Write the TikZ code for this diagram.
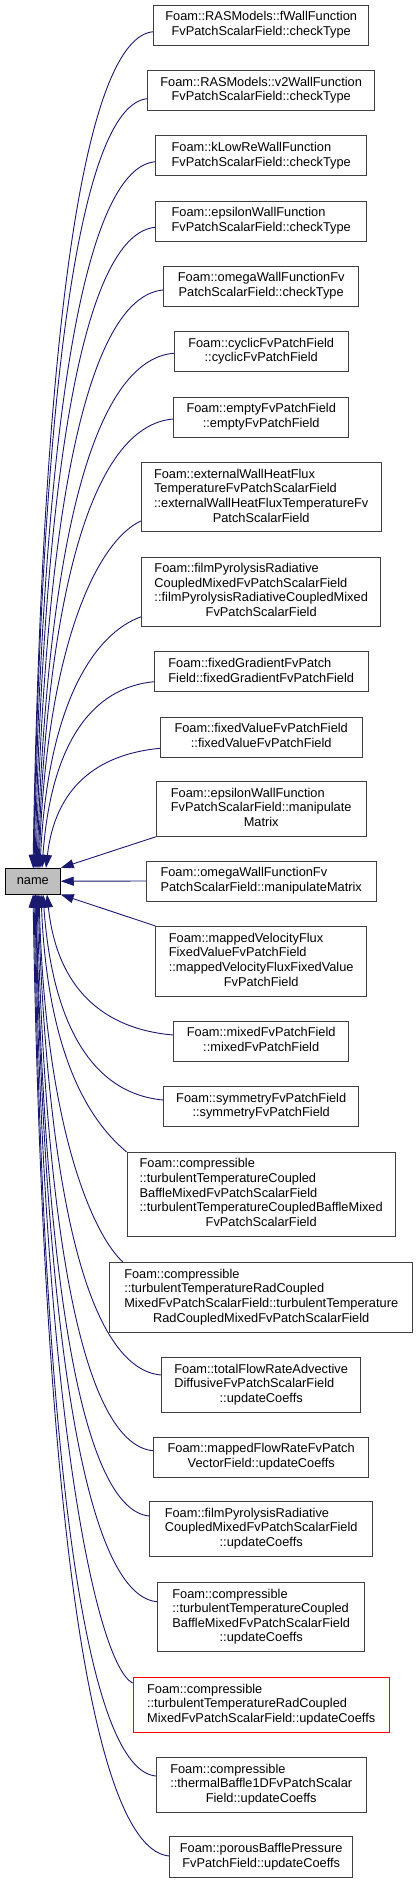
\documentclass[tikz,border=0pt]{standalone}
\usepackage{fontspec}
\setmainfont{Liberation Sans}
\usetikzlibrary{arrows.meta,calc}
\definecolor{edgeblue}{RGB}{25,25,112}
\definecolor{bordergray}{RGB}{64,64,64}
\definecolor{namegray}{RGB}{191,191,191}
\newcommand{\dlab}[2]{\begin{tabular}{@{}l@{}}#1\\\multicolumn{1}{@{}c@{}}{#2}\end{tabular}}
\begin{document}
\begin{tikzpicture}[x=1pt,y=-1pt,
  font=\fontsize{12.8}{14.6}\selectfont,
  dbox/.style={draw=bordergray,line width=0.9pt,fill=white,inner xsep=1pt,inner ysep=0pt},
  redbox/.style={dbox,draw=red},
  namebox/.style={draw=black,line width=0.9pt,fill=namegray,inner sep=0pt,minimum width=55pt,minimum height=25.7pt},
  dedge/.style={draw=edgeblue,line width=0.9pt,-{Triangle[length=13pt,width=9pt]}}]
\useasboundingbox (0,0) rectangle (419,1883);

\node[namebox] (name) at (32.8,881.2) {name};

\node[dbox,minimum width=215pt,minimum height=40pt] (b1) at (261.2,25) {\dlab{Foam::RASModels::fWallFunction}{FvPatchScalarField::checkType}};
\node[dbox,minimum width=227pt,minimum height=40pt] (b2) at (261.2,90.5) {\dlab{Foam::RASModels::v2WallFunction}{FvPatchScalarField::checkType}};
\node[dbox,minimum width=211pt,minimum height=40pt] (b3) at (261.2,155.8) {\dlab{Foam::kLowReWallFunction}{FvPatchScalarField::checkType}};
\node[dbox,minimum width=211pt,minimum height=40pt] (b4) at (261.2,221) {\dlab{Foam::epsilonWallFunction}{FvPatchScalarField::checkType}};
\node[dbox,minimum width=195pt,minimum height=40pt] (b5) at (261.2,286.3) {\dlab{Foam::omegaWallFunctionFv}{PatchScalarField::checkType}};
\node[dbox,minimum width=174pt,minimum height=40pt] (b6) at (261.2,351.7) {\dlab{Foam::cyclicFvPatchField}{::cyclicFvPatchField}};
\node[dbox,minimum width=175pt,minimum height=40pt] (b7) at (261.2,417) {\dlab{Foam::emptyFvPatchField}{::emptyFvPatchField}};
\node[dbox,minimum width=239.7pt,minimum height=69pt] (b8) at (261.2,497.2) {\dlab{Foam::externalWallHeatFlux\\TemperatureFvPatchScalarField\\::externalWallHeatFluxTemperatureFv}{PatchScalarField}};
\node[dbox,minimum width=239pt,minimum height=69.3pt] (b9) at (261.2,591.7) {\dlab{Foam::filmPyrolysisRadiative\\CoupledMixedFvPatchScalarField\\::filmPyrolysisRadiativeCoupledMixed}{FvPatchScalarField}};
\node[dbox,minimum width=213.7pt,minimum height=40pt] (b10) at (261.2,671.8) {\dlab{Foam::fixedGradientFvPatch}{Field::fixedGradientFvPatchField}};
\node[dbox,minimum width=201.7pt,minimum height=40pt] (b11) at (261.2,737) {\dlab{Foam::fixedValueFvPatchField}{::fixedValueFvPatchField}};
\node[dbox,minimum width=209.7pt,minimum height=54.6pt] (b12) at (261.2,809) {\dlab{Foam::epsilonWallFunction\\FvPatchScalarField::manipulate}{Matrix}};
\node[dbox,minimum width=229.7pt,minimum height=40pt] (b13) at (261.2,881) {\dlab{Foam::omegaWallFunctionFv}{PatchScalarField::manipulateMatrix}};
\node[dbox,minimum width=211pt,minimum height=69.7pt] (b14) at (261.2,961.2) {\dlab{Foam::mappedVelocityFlux\\FixedValueFvPatchField\\::mappedVelocityFluxFixedValue}{FvPatchField}};
\node[dbox,minimum width=175pt,minimum height=40pt] (b15) at (261.2,1041) {\dlab{Foam::mixedFvPatchField}{::mixedFvPatchField}};
\node[dbox,minimum width=195pt,minimum height=40pt] (b16) at (261.2,1106.7) {\dlab{Foam::symmetryFvPatchField}{::symmetryFvPatchField}};
\node[dbox,minimum width=268.3pt,minimum height=83.7pt] (b17) at (261.2,1194.2) {\dlab{Foam::compressible\\::turbulentTemperatureCoupled\\BaffleMixedFvPatchScalarField\\::turbulentTemperatureCoupledBaffleMixed}{FvPatchScalarField}};
\node[dbox,minimum width=303pt,minimum height=69.7pt] (b18) at (261.2,1297.2) {\dlab{Foam::compressible\\::turbulentTemperatureRadCoupled\\MixedFvPatchScalarField::turbulentTemperature}{RadCoupledMixedFvPatchScalarField}};
\node[dbox,minimum width=199.4pt,minimum height=55pt] (b19) at (261.2,1384.8) {\dlab{Foam::totalFlowRateAdvective\\DiffusiveFvPatchScalarField}{::updateCoeffs}};
\node[dbox,minimum width=215.4pt,minimum height=40pt] (b20) at (261.2,1457) {\dlab{Foam::mappedFlowRateFvPatch}{VectorField::updateCoeffs}};
\node[dbox,minimum width=223pt,minimum height=54.3pt] (b21) at (261.2,1528.8) {\dlab{Foam::filmPyrolysisRadiative\\CoupledMixedFvPatchScalarField}{::updateCoeffs}};
\node[dbox,minimum width=207.4pt,minimum height=69.4pt] (b22) at (261.2,1617) {\dlab{Foam::compressible\\::turbulentTemperatureCoupled\\BaffleMixedFvPatchScalarField}{::updateCoeffs}};
\node[redbox,minimum width=256.3pt,minimum height=54.6pt] (b23) at (261.2,1705) {\dlab{Foam::compressible\\::turbulentTemperatureRadCoupled}{MixedFvPatchScalarField::updateCoeffs}};
\node[dbox,minimum width=209.7pt,minimum height=54.6pt] (b24) at (261.2,1785) {\dlab{Foam::compressible\\::thermalBaffle1DFvPatchScalar}{Field::updateCoeffs}};
\node[dbox,minimum width=182.6pt,minimum height=40.3pt] (b25) at (261.2,1856.8) {\dlab{Foam::porousBafflePressure}{FvPatchField::updateCoeffs}};

% upper edges
\draw[dedge] ($(b1.west)+(0,6.7)$) .. controls +(-66.4,6) and +(9.7,-560.5) .. ($(name.north)+(0.2,0)$);
\draw[dedge] ($(b2.west)+(0,8.2)$) .. controls +(-62.8,6) and +(9.1,-515.6) .. ($(name.north)+(0.7,0)$);
\draw[dedge] ($(b3.west)+(0,5.9)$) .. controls +(-66.9,6) and +(9.7,-473.4) .. ($(name.north)+(1.2,0)$);
\draw[dedge] ($(b4.west)+(0,6.3)$) .. controls +(-66.4,6) and +(9.7,-429.5) .. ($(name.north)+(2.2,0)$);
\draw[dedge] ($(b5.west)+(0,3.7)$) .. controls +(-70.2,6) and +(10.2,-387.5) .. ($(name.north)+(3.2,0)$);
\draw[dedge] ($(b6.west)+(0,1.6)$) .. controls +(-75.5,6) and +(11,-345) .. ($(name.north)+(4.2,0)$);
\draw[dedge] ($(b7.west)+(0,2)$) .. controls +(-74.6,6) and +(10.9,-301) .. ($(name.north)+(5.2,0)$);
\draw[dedge] ($(b8.west)+(0,23.8)$) .. controls +(-40,18) and +(8.2,-232.7) .. ($(name.north)+(6.2,0)$);
\draw[dedge] ($(b9.west)+(0,25)$) .. controls +(-45,16) and +(8.1,-168.6) .. ($(name.north)+(7.2,0)$);
\draw[dedge] ($(b10.west)+(0,9.9)$) .. controls +(-61.8,6) and +(9,-125) .. ($(name.north)+(9.2,0)$);
\draw[dedge] ($(b11.west)+(0,11.3)$) .. controls +(-62.9,6) and +(9.1,-80.4) .. ($(name.north)+(13.2,0)$);
\draw[dedge] (b12.south west) -- (name.north east);
\draw[dedge] (b13.west) -- (name.east);
% lower edges
\draw[dedge] (b14.north west) -- (name.south east);
\draw[dedge] ($(b15.west)+(0,-6)$) .. controls +(-69.7,-6) and +(10.1,94.5) .. ($(name.south)+(14.2,0)$);
\draw[dedge] ($(b16.west)+(0,-6.7)$) .. controls +(-66.4,-6) and +(9.7,138) .. ($(name.south)+(10.2,0)$);
\draw[dedge] (b17.north west) .. controls +(-30,-25) and +(6.9,173) .. ($(name.south)+(8.2,0)$);
\draw[dedge] ($(b18.north west)+(13.6,0)$) .. controls +(-25,-22) and +(6.7,246.8) .. ($(name.south)+(6.2,0)$);
\draw[dedge] ($(b19.west)+(0,-9.8)$) .. controls +(-67.8,-6) and +(9.9,322.3) .. ($(name.south)+(5.2,0)$);
\draw[dedge] ($(b20.west)+(0,-6.3)$) .. controls +(-64,-6) and +(9.3,373) .. ($(name.south)+(4.2,0)$);
\draw[dedge] ($(b21.west)+(0,-12.8)$) .. controls +(-62.5,-6) and +(9.1,416.7) .. ($(name.south)+(3.2,0)$);
\draw[dedge] ($(b22.west)+(0,-15.3)$) .. controls +(-67,-6) and +(9.7,474.2) .. ($(name.south)+(2.7,0)$);
\draw[dedge] ($(b23.west)+(0,-22)$) .. controls +(-35,-18) and +(7.8,528.6) .. ($(name.south)+(2.2,0)$);
\draw[dedge] ($(b24.west)+(0,-9)$) .. controls +(-67.3,-6) and +(9.8,591) .. ($(name.south)+(1.2,0)$);
\draw[dedge] ($(b25.west)+(0,-0.8)$) .. controls +(-75.2,-6) and +(10.9,644.5) .. ($(name.south)+(0.2,0)$);
\end{tikzpicture}
\end{document}
